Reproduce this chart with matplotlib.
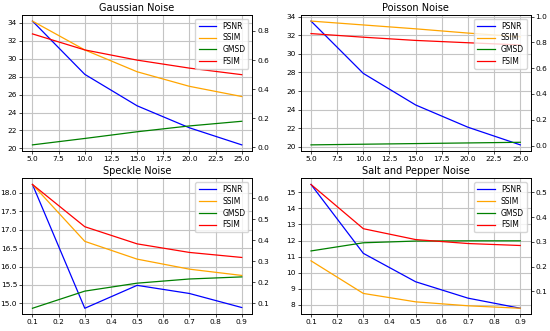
import matplotlib
matplotlib.use('Agg')
import matplotlib.pyplot as plt

# noise levels
gauss_x = [5, 10, 15, 20, 25]
poisson_x = [5, 10, 15, 20, 25]
speckle_x = [0.1, 0.3, 0.5, 0.7, 0.9]
sp_x = [0.1, 0.3, 0.5, 0.7, 0.9]

# Gaussian
gauss_psnr = [34.18, 28.25, 24.75, 22.3, 20.4]
gauss_ssim = [0.868, 0.67, 0.52, 0.42, 0.35]
gauss_gmsd = [0.018, 0.062, 0.108, 0.148, 0.18]
gauss_fsim = [0.78, 0.67, 0.60, 0.545, 0.50]

# Poisson
poisson_psnr = [33.54, 27.9, 24.5, 22.1, 20.2]
poisson_ssim = [0.965, 0.935, 0.905, 0.872, 0.843]
poisson_gmsd = [0.005, 0.01, 0.015, 0.02, 0.025]
poisson_fsim = [0.868, 0.84, 0.815, 0.797, 0.78]

# Speckle
speckle_psnr = [18.22, 14.87, 15.49, 15.27, 14.89]
speckle_ssim = [0.667, 0.395, 0.31, 0.262, 0.232]
speckle_gmsd = [0.075, 0.157, 0.195, 0.215, 0.225]
speckle_fsim = [0.667, 0.465, 0.383, 0.342, 0.318]

# Salt and pepper
sp_psnr = [15.49, 11.2, 9.43, 8.41, 7.78]
sp_ssim = [0.223, 0.091, 0.057, 0.041, 0.031]
sp_gmsd = [0.263, 0.296, 0.303, 0.304, 0.304]
sp_fsim = [0.532, 0.353, 0.309, 0.293, 0.285]

panels = [
    ('Gaussian Noise', gauss_x, gauss_psnr, gauss_ssim, gauss_gmsd, gauss_fsim),
    ('Poisson Noise', poisson_x, poisson_psnr, poisson_ssim, poisson_gmsd, poisson_fsim),
    ('Speckle Noise', speckle_x, speckle_psnr, speckle_ssim, speckle_gmsd, speckle_fsim),
    ('Salt and Pepper Noise', sp_x, sp_psnr, sp_ssim, sp_gmsd, sp_fsim),
]


def main():
    plt.rcParams['font.size'] = 6
    fig, axes = plt.subplots(2, 2, figsize=(5.5, 3.31), dpi=100)
    fig.subplots_adjust(left=0.04, right=0.965, top=0.955, bottom=0.05,
                        wspace=0.21, hspace=0.2)

    for ax, (title, x, psnr, ssim, gmsd, fsim) in zip(axes.ravel(), panels):
        ax2 = ax.twinx()
        l1, = ax.plot(x, psnr, color='blue', lw=0.9, label='PSNR')
        l2, = ax2.plot(x, ssim, color='orange', lw=0.9, label='SSIM')
        l3, = ax2.plot(x, gmsd, color='green', lw=0.9, label='GMSD')
        l4, = ax2.plot(x, fsim, color='red', lw=0.9, label='FSIM')
        ax.set_title(title, fontsize=7, pad=3)
        ax.grid(True, color='#c4c4c4', lw=0.8)
        ax.tick_params(labelsize=5.3, length=2, pad=1.5, width=0.5)
        ax2.tick_params(labelsize=5.3, length=2, pad=1.5, width=0.5)
        for sp in list(ax.spines.values()) + list(ax2.spines.values()):
            sp.set_linewidth(0.6)
        ax2.legend(handles=[l1, l2, l3, l4], loc='upper right', fontsize=5.5,
                   handlelength=2.3, borderpad=0.4, labelspacing=0.35)

    fig.savefig('out.png', dpi=100)


if __name__ == '__main__':
    main()
